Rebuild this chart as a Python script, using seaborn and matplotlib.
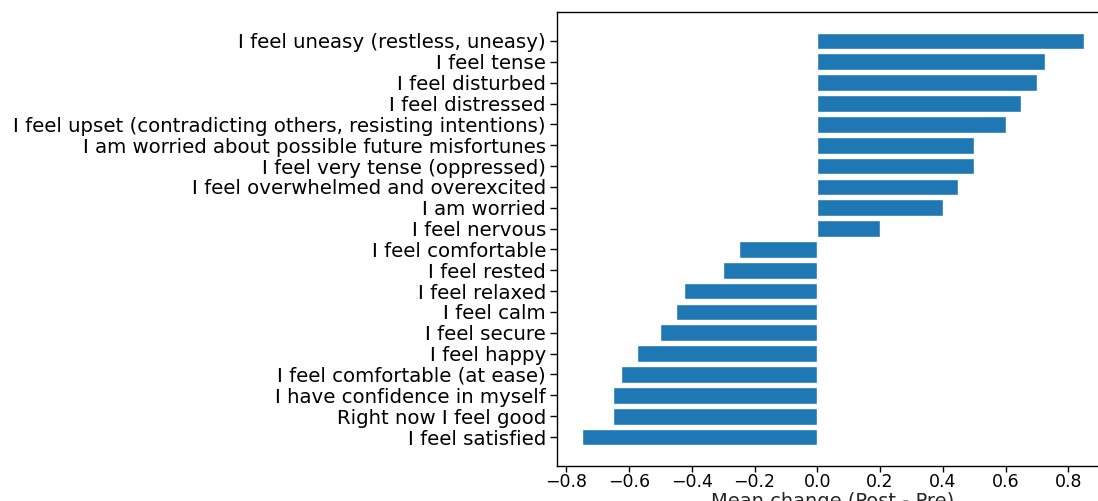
import matplotlib
matplotlib.use("Agg")
import matplotlib.pyplot as plt
import seaborn as sns
import pandas as pd

items = [
    "I feel uneasy (restless, uneasy)",
    "I feel tense",
    "I feel disturbed",
    "I feel distressed",
    "I feel upset (contradicting others, resisting intentions)",
    "I am worried about possible future misfortunes",
    "I feel very tense (oppressed)",
    "I feel overwhelmed and overexcited",
    "I am worried",
    "I feel nervous",
    "I feel comfortable",
    "I feel rested",
    "I feel relaxed",
    "I feel calm",
    "I feel secure",
    "I feel happy",
    "I feel comfortable (at ease)",
    "I have confidence in myself",
    "Right now I feel good",
    "I feel satisfied",
]
mean_change = [
    0.85, 0.725, 0.70, 0.65, 0.60, 0.50, 0.50, 0.45, 0.40, 0.20,
    -0.25, -0.30, -0.425, -0.45, -0.50, -0.575, -0.625, -0.65, -0.65, -0.75,
]
x_ticks = [-0.8, -0.6, -0.4, -0.2, 0.0, 0.2, 0.4, 0.6, 0.8]

df = pd.DataFrame({"item": items, "change": mean_change})

sns.set_style("ticks")
plt.rcParams["font.family"] = ["DejaVu Sans"]

fig = plt.figure(figsize=(10.98, 5.01), dpi=100)
ax = fig.add_axes([557 / 1098, 35 / 501, (1109 - 557) / 1098, (466 - 12) / 501])

sns.barplot(data=df, x="change", y="item", orient="h", color="#1f77b4",
            saturation=1, width=0.8, ax=ax)

n = len(items)
ax.set_ylim(n - 1 + 1.39, -1.39)
ax.set_xlim(-0.83, 0.93)
ax.set_xticks(x_ticks)
ax.set_ylabel("")
ax.set_xlabel("Mean change (Post - Pre)", fontsize=14, labelpad=1)
ax.tick_params(axis="x", labelsize=12.5, length=4, width=1, colors="black", pad=1)
ax.tick_params(axis="y", labelsize=14.2, length=5, width=1, colors="black", pad=3)
for s in ax.spines.values():
    s.set_visible(True)
    s.set_color("black")
    s.set_linewidth(1)

fig.savefig("out.png", dpi=100)
